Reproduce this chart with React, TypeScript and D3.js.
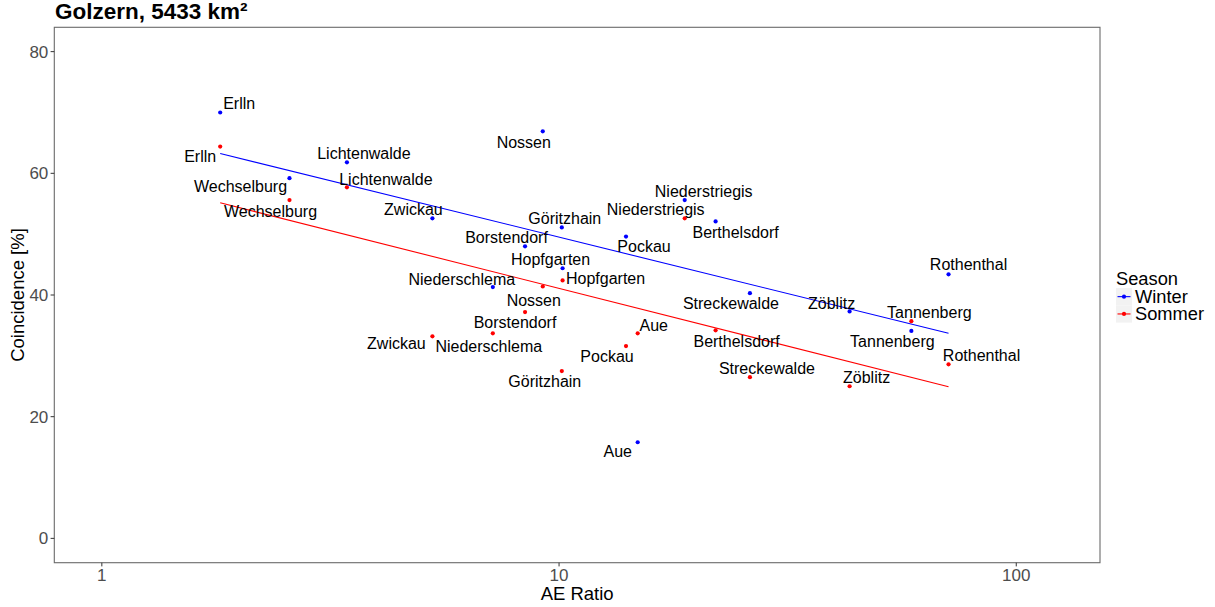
import React from "react";
import * as d3 from "d3";

// Gauges upstream of Golzern, AE ratio on a log axis
const stations = [
  "Erlln", "Wechselburg", "Lichtenwalde", "Zwickau", "Niederschlema", "Borstendorf",
  "Nossen", "Göritzhain", "Hopfgarten", "Pockau", "Aue", "Niederstriegis",
  "Berthelsdorf", "Streckewalde", "Zöblitz", "Tannenberg", "Rothenthal",
];
const aeRatio = [1.815, 2.573, 3.436, 5.285, 7.164, 8.426, 9.213, 10.14, 10.18, 14.01, 14.86, 18.83, 22.0, 26.15, 43.2, 58.96, 71.1];
const winter = [70.0, 59.2, 61.8, 52.6, 41.3, 48.0, 66.9, 51.1, 44.4, 49.6, 15.8, 55.6, 52.1, 40.3, 37.3, 34.1, 43.4];
const sommer = [64.4, 55.6, 57.7, 33.2, 33.7, 37.2, 41.4, 27.5, 42.4, 31.6, 33.7, 52.6, 34.2, 26.5, 25.0, 35.7, 28.6];

// linear fit of coincidence against log10(AE ratio)
const trendWinter = { intercept: 68.06, slope: -18.55 };
const trendSommer = { intercept: 60.06, slope: -18.97 };

const seasons = ["Winter", "Sommer"];
const seasonColors = ["#0000FF", "#FF0000"];

const xTicks = [1, 10, 100];
const yTicks = [0, 20, 40, 60, 80];
const xLimits = [1, 120];
const yLimits = [0, 80];

// label placement (pixel nudges from each point)
const nudgeWinter: [number, number][] = [
  [19, -9], [-49, 8], [17, -9], [-19, -9], [-31, -8], [-18.5, -9], [-19, 11], [3, -9], [-12, -9],
  [18, 10], [-20, 9], [19, -9], [20, 11], [-19, 10], [-18, -8], [-19, 11], [20, -10],
];
const nudgeSommer: [number, number][] = [
  [-20, 10], [-19, 11], [39, -8], [-36, 7], [-4, 13], [-10, 10], [-9, 14], [-17, 10], [43, -2],
  [-19, 10], [16, -8], [-29, -9], [21, 11], [17, -9], [17, -9], [18, -9], [33, -9],
];

const W = 1215;
const H = 607;
const panel = { left: 54.3, right: 1100, top: 27.3, bottom: 562.7 };
const FONT = "'Liberation Sans', Arial, Helvetica, sans-serif";

export default function App() {
  const lx0 = Math.log10(xLimits[0]);
  const lx1 = Math.log10(xLimits[1]);
  const ex = (lx1 - lx0) * 0.05;
  const x = d3
    .scaleLog()
    .domain([Math.pow(10, lx0 - ex), Math.pow(10, lx1 + ex)])
    .range([panel.left, panel.right]);
  const ey = (yLimits[1] - yLimits[0]) * 0.05;
  const y = d3
    .scaleLinear()
    .domain([yLimits[0] - ey, yLimits[1] + ey])
    .range([panel.bottom, panel.top]);

  const series = [
    { name: seasons[0], values: winter, trend: trendWinter, color: seasonColors[0], nudge: nudgeWinter },
    { name: seasons[1], values: sommer, trend: trendSommer, color: seasonColors[1], nudge: nudgeSommer },
  ];

  const xMin = d3.min(aeRatio) as number;
  const xMax = d3.max(aeRatio) as number;
  const line = d3
    .line<number>()
    .x((d) => x(d))
    .y((d) => y(0));

  const trendPath = (t: { intercept: number; slope: number }) =>
    d3
      .line<number>()
      .x((d) => x(d))
      .y((d) => y(t.intercept + t.slope * Math.log10(d)))([xMin, xMax]) || "";
  void line;

  const axisColor = "#333333";
  const tickLabelColor = "#4D4D4D";

  return (
    <svg
      width={W}
      height={H}
      style={{ position: "absolute", left: 0, top: 0, background: "#fff" }}
      fontFamily={FONT}
    >
      <rect x={0} y={0} width={W} height={H} fill="#fff" />
      {/* title */}
      <text x={55} y={19} fontSize={22.5} fontWeight="bold" fill="#000">
        Golzern, 5433 km²
      </text>

      {/* trend lines */}
      {series.map((s) => (
        <path key={"t" + s.name} d={trendPath(s.trend)} fill="none" stroke={s.color} strokeWidth={1.1} />
      ))}

      {/* points */}
      {series.map((s) =>
        s.values.map((v, i) => (
          <circle key={s.name + i} cx={x(aeRatio[i])} cy={y(v)} r={2.1} fill={s.color} />
        ))
      )}

      {/* station labels */}
      {series.map((s) =>
        s.values.map((v, i) => (
          <text
            key={"l" + s.name + i}
            x={x(aeRatio[i]) + s.nudge[i][0]}
            y={y(v) + s.nudge[i][1]}
            dy="0.35em"
            textAnchor="middle"
            fontSize={16}
            fill="#000"
          >
            {stations[i]}
          </text>
        ))
      )}

      {/* panel border */}
      <rect
        x={panel.left}
        y={panel.top}
        width={panel.right - panel.left}
        height={panel.bottom - panel.top}
        fill="none"
        stroke="#6a6a6a"
        strokeWidth={1.1}
      />

      {/* y axis */}
      {yTicks.map((t) => (
        <g key={"y" + t}>
          <line x1={panel.left - 3.7} x2={panel.left} y1={y(t)} y2={y(t)} stroke={axisColor} strokeWidth={1} />
          <text x={panel.left - 6} y={y(t)} dy="0.36em" textAnchor="end" fontSize={17} fill={tickLabelColor}>
            {t}
          </text>
        </g>
      ))}

      {/* x axis */}
      {xTicks.map((t) => (
        <g key={"x" + t}>
          <line x1={x(t)} x2={x(t)} y1={panel.bottom} y2={panel.bottom + 3.7} stroke={axisColor} strokeWidth={1} />
          <text x={x(t)} y={580.6} textAnchor="middle" fontSize={17} fill={tickLabelColor}>
            {t}
          </text>
        </g>
      ))}

      {/* axis titles */}
      <text x={(panel.left + panel.right) / 2} y={600} textAnchor="middle" fontSize={18.5} fill="#000">
        AE Ratio
      </text>
      <text
        transform={`translate(23.5, ${(panel.top + panel.bottom) / 2}) rotate(-90)`}
        textAnchor="middle"
        fontSize={18.5}
        fill="#000"
      >
        Coincidence [%]
      </text>

      {/* legend */}
      <text x={1116} y={278.3} dy="0.35em" fontSize={18.3} fill="#000">
        Season
      </text>
      {series.map((s, i) => {
        const top = 288 + i * 17.3;
        const cy = top + 17.3 / 2;
        return (
          <g key={"lg" + s.name}>
            <rect x={1116} y={top} width={16} height={17.3} fill="#F2F2F2" />
            <line x1={1117.5} x2={1130.5} y1={cy} y2={cy} stroke={s.color} strokeWidth={1.1} />
            <circle cx={1124} cy={cy} r={2.1} fill={s.color} />
            <text x={1135} y={cy} dy="0.35em" fontSize={18.3} fill="#000">
              {s.name}
            </text>
          </g>
        );
      })}
    </svg>
  );
}
